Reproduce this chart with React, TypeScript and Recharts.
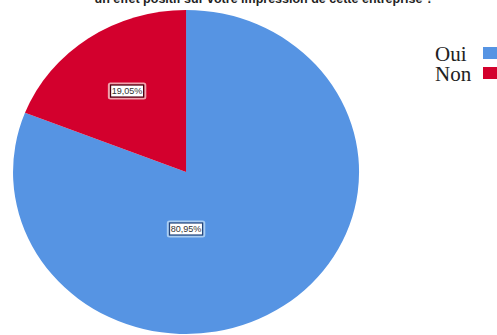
import React from "react";
import { PieChart, Pie, Cell } from "recharts";

// réponses et pourcentages
const categories = ["Oui", "Non"];
const percents = [80.95, 19.05];
const colors = ["#5694e3", "#d3002d"];
const labelGlow = ["#a9cdf2", "#f0a3ae"];
const labelEdge = ["#26467a", "#4a0010"];

const title = "un effet positif sur votre impression de cette entreprise ?";

const data = categories.map((name, i) => ({ name, value: percents[i] }));

// the source image is slightly stretched horizontally
const STRETCH = 1.068;
const CX = 174.2;
const CY = 172;
const R = 162;

// SPSS puts the big slice label straight under the centre
const labelPlacement = [
  { angle: -90, radius: 57 },
  { angle: null, radius: 98 },
];

const fmt = (v: number) => v.toFixed(2).replace(".", ",") + "%";

function renderLabel(props: any) {
  const { cx, cy, midAngle, index, value } = props;
  const place = labelPlacement[index];
  const a = ((place.angle ?? midAngle) * Math.PI) / 180;
  const x = cx + place.radius * Math.cos(a);
  const y = cy - place.radius * Math.sin(a);
  const w = 31;
  const h = 12;
  return (
    <g>
      <rect x={x - w / 2 - 1.5} y={y - h / 2 - 1.5} width={w + 3} height={h + 3} fill="none" stroke={labelGlow[index]} strokeWidth={2} rx={1.5} />
      <rect x={x - w / 2} y={y - h / 2} width={w} height={h} fill="#ffffff" stroke={labelEdge[index]} strokeWidth={1.2} />
      <text x={x} y={y + 3} textAnchor="middle" fontSize={8.5} fontFamily="'Liberation Sans', Arial, sans-serif" fill="#333">
        {fmt(value)}
      </text>
    </g>
  );
}

export default function App() {
  return (
    <div style={{ position: "fixed", left: 0, top: 0, width: 497, height: 335, overflow: "hidden", background: "#fff" }}>
      <div
        style={{
          position: "absolute",
          left: 0,
          width: 528,
          top: -8,
          textAlign: "center",
          fontFamily: "'Liberation Sans', Arial, sans-serif",
          fontWeight: "bold",
          fontSize: 12.5,
          color: "#222",
          whiteSpace: "nowrap",
          lineHeight: "14px",
        }}
      >
        {title}
      </div>

      <div style={{ position: "absolute", left: 0, top: 0, transform: `scaleX(${STRETCH})`, transformOrigin: "0 0" }}>
        <PieChart width={350} height={335} margin={{ top: 0, right: 0, bottom: 0, left: 0 }}>
          <Pie
            data={data}
            dataKey="value"
            nameKey="name"
            cx={CX}
            cy={CY}
            outerRadius={R}
            startAngle={90}
            endAngle={-270}
            stroke="none"
            label={renderLabel}
            labelLine={false}
            isAnimationActive={false}
          >
            {data.map((d, i) => (
              <Cell key={d.name} fill={colors[i]} />
            ))}
          </Pie>
        </PieChart>
      </div>

      {categories.map((c, i) => (
        <div key={c} style={{ position: "absolute", left: 435, top: 44 + i * 20, height: 20 }}>
          <span
            style={{
              fontFamily: "'Liberation Serif', 'Times New Roman', serif",
              fontSize: 21,
              lineHeight: "20px",
              color: "#222",
            }}
          >
            {c}
          </span>
          <div style={{ position: "absolute", left: 48, top: 3, width: 16, height: 12, background: colors[i] }} />
        </div>
      ))}
    </div>
  );
}
